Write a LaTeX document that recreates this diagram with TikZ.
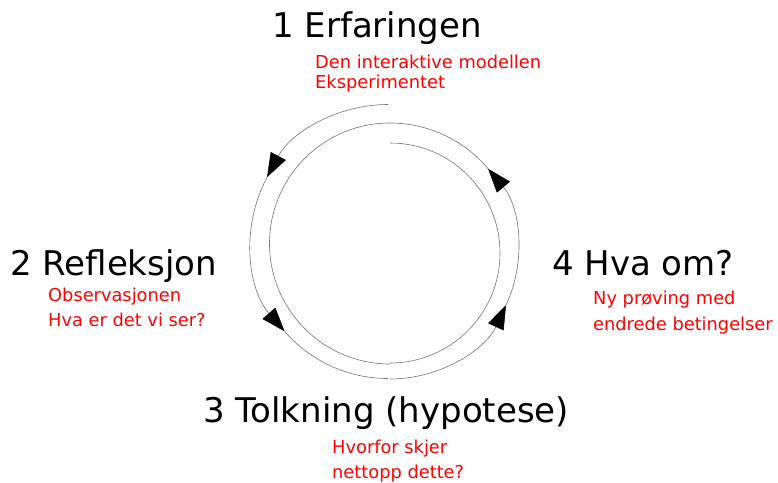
\documentclass[tikz,border=0pt]{standalone}
\usepackage{fontspec}
\setmainfont{DejaVu Sans}
\usetikzlibrary{arrows.meta}
\tikzset{
  head/.style={anchor=base west, inner sep=0pt, font=\fontsize{34}{40}\selectfont},
  sub/.style={anchor=base west, inner sep=0pt, text=red, font=\fontsize{17.8}{22}\selectfont},
  ring/.style={draw=black!55, line width=0.6pt},
  tip/.style={-{Triangle[length=24pt,width=17pt,color=black]}},
}
\begin{document}
\begin{tikzpicture}[x=1pt,y=1pt]
	\useasboundingbox (0,0) rectangle (778,-482);
	
	\node[head] (erf) at (272,-37) {1 Erfaringen};
	\node[sub] (erf1) at (315,-68) {Den interaktive modellen};
	\node[sub] (erf2) at (315,-88) {Eksperimentet};
	
	\node[head] (refl) at (10,-275) {2 Refleksjon};
	\node[sub] (refl1) at (48,-301) {Observasjonen};
	\node[sub] (refl2) at (48,-326) {Hva er det vi ser?};
	
	\node[head] (tolk) at (203,-422) {3 Tolkning (hypotese)};
	\node[sub] (tolk1) at (332,-453) {Hvorfor skjer};
	\node[sub] (tolk2) at (332,-478) {nettopp dette?};
	
	\node[head] (hva) at (552,-275) {4 Hva om?};
	\node[sub] (hva1) at (593,-304) {Ny prøving med};
	\node[sub] (hva2) at (593,-330) {endrede betingelser};
	
	\coordinate (cl) at (388,-241.5);
	\coordinate (cr) at (390,-251);
	
	% left half of the ring
	\draw[ring,tip] (cl) ++(90:137) arc[start angle=90, end angle=152, radius=137];
	\draw[ring,tip] (cl) ++(152:137) arc[start angle=152, end angle=221, radius=137];
	\draw[ring] (cl) ++(221:137) arc[start angle=221, end angle=270, radius=137];
	\draw[ring] (390,-243.5) ++(90:120.5) arc[start angle=90, end angle=270, radius=120.5];
	
	% right half of the ring
	\draw[ring,tip] (cr) ++(-90:128) arc[start angle=-90, end angle=-25, radius=128];
	\draw[ring,tip] (cr) ++(-25:128) arc[start angle=-25, end angle=40, radius=128];
	\draw[ring] (cr) ++(40:128) arc[start angle=40, end angle=90, radius=128];
	\draw[ring] (390,-253) ++(-90:110) arc[start angle=-90, end angle=90, radius=110];
\end{tikzpicture}
\end{document}
